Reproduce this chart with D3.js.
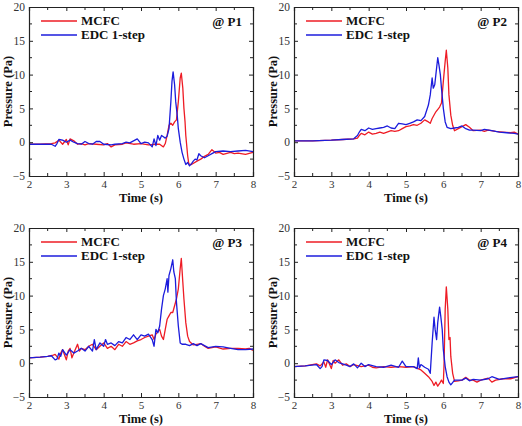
<!doctype html>
<html lang="en">
<head>
<meta charset="UTF-8">
<title>pressure-panels</title>
<style>
  body { margin: 0; background: #fff; }
  svg text { font-family: 'Liberation Serif', 'Times New Roman', 'DejaVu Serif', serif !important; }
</style>
</head>
<body>
<svg width="522" height="426"></svg>
<script src="https://d3js.org/d3.v7.min.js"></script>
<script>
// ---- data: [time (s), pressure (Pa)] ----
const p1Mcfc = [[2,-0.3],[2.3,-0.3],[2.6,-0.2],[2.7,-0.1],[2.8,0.3],[2.9,-0.3],[3.0,0.4],[3.05,-0.4],[3.1,0.5],[3.2,0.2],[3.3,-0.3],[3.4,-0.2],[3.5,-0.4],[3.6,-0.2],[3.8,-0.3],[4.0,-0.4],[4.1,-0.2],[4.2,-0.7],[4.3,-0.4],[4.5,-0.3],[4.6,-0.1],[4.8,-0.3],[5.0,-0.2],[5.2,-0.4],[5.4,-0.3],[5.5,-0.3],[5.6,-0.7],[5.65,-0.2],[5.7,1.0],[5.75,2.5],[5.8,2.8],[5.85,2.5],[5.9,3.0],[5.95,3.3],[6.0,6.0],[6.05,9.5],[6.08,10.2],[6.12,8.0],[6.15,5.0],[6.18,3.0],[6.2,1.0],[6.25,-2.0],[6.28,-3.2],[6.35,-3.3],[6.5,-2.8],[6.6,-2.5],[6.7,-2.1],[6.8,-1.8],[6.9,-1.1],[7.0,-1.6],[7.1,-1.5],[7.2,-1.8],[7.4,-1.5],[7.5,-1.7],[7.6,-1.6],[7.8,-1.8],[8.0,-1.5]];
const p1Edc = [[2,-0.3],[2.3,-0.3],[2.6,-0.3],[2.7,-0.6],[2.75,-0.2],[2.8,0.4],[2.9,0.3],[3.0,0.0],[3.1,0.3],[3.2,0.0],[3.3,-0.2],[3.4,-0.3],[3.5,0.1],[3.6,-0.2],[3.7,-0.3],[3.8,0.1],[3.9,0.1],[4.0,-0.3],[4.2,-0.4],[4.3,-0.3],[4.5,-0.2],[4.6,0.0],[4.7,-0.1],[4.8,0.2],[4.9,0.5],[5.0,-0.2],[5.1,0.0],[5.2,-0.1],[5.3,-0.7],[5.35,0.5],[5.4,-0.5],[5.45,1.0],[5.5,0.3],[5.55,1.0],[5.6,0.8],[5.65,0.6],[5.7,0.9],[5.75,2.0],[5.8,6.0],[5.83,9.0],[5.86,10.4],[5.9,8.5],[5.93,6.0],[5.97,4.0],[6.0,2.0],[6.05,0.0],[6.1,-1.5],[6.15,-2.5],[6.2,-3.3],[6.25,-3.0],[6.3,-3.5],[6.35,-3.2],[6.4,-2.8],[6.45,-2.5],[6.5,-2.6],[6.55,-1.7],[6.6,-2.0],[6.7,-2.3],[6.8,-2.0],[6.9,-1.7],[7.0,-1.4],[7.2,-1.3],[7.4,-1.4],[7.6,-1.3],[7.8,-1.2],[8.0,-1.4]];

const p2Mcfc = [[2,0.2],[2.5,0.2],[3.0,0.3],[3.3,0.4],[3.6,0.5],[3.7,0.6],[3.75,1.0],[3.8,1.3],[3.9,1.1],[4.0,1.5],[4.1,1.2],[4.2,1.3],[4.3,1.5],[4.4,1.3],[4.6,1.7],[4.7,1.6],[4.8,1.7],[4.9,2.0],[5.0,2.3],[5.1,2.4],[5.2,2.6],[5.3,2.5],[5.4,2.8],[5.5,3.3],[5.6,3.0],[5.65,2.8],[5.7,3.5],[5.8,4.5],[5.9,5.2],[5.95,5.8],[6.0,9.0],[6.05,12.0],[6.08,13.6],[6.12,11.0],[6.15,7.0],[6.2,4.0],[6.25,2.5],[6.3,1.7],[6.4,2.0],[6.5,2.3],[6.6,2.6],[6.7,2.2],[6.8,1.7],[7.0,1.8],[7.1,1.6],[7.2,1.8],[7.4,1.6],[7.6,1.5],[7.8,1.4],[7.9,1.5],[8.0,1.2]];
const p2Edc = [[2,0.2],[2.5,0.2],[3.0,0.3],[3.3,0.4],[3.6,0.5],[3.7,1.0],[3.75,1.5],[3.8,1.9],[3.9,1.7],[4.0,2.1],[4.1,1.9],[4.2,2.0],[4.3,2.1],[4.4,2.2],[4.5,2.4],[4.6,2.1],[4.7,2.0],[4.8,2.8],[4.9,2.7],[5.0,2.6],[5.1,2.8],[5.2,3.0],[5.3,3.3],[5.4,3.2],[5.5,3.8],[5.6,5.5],[5.65,7.0],[5.7,9.5],[5.73,8.0],[5.77,8.5],[5.8,10.0],[5.85,12.5],[5.88,11.5],[5.92,10.0],[5.95,8.0],[6.0,5.0],[6.05,3.0],[6.1,2.2],[6.2,2.0],[6.3,2.1],[6.4,2.2],[6.5,2.4],[6.6,2.0],[6.7,1.8],[6.8,1.8],[7.0,1.7],[7.1,1.9],[7.3,1.7],[7.5,1.5],[7.7,1.4],[7.9,1.3],[8.0,1.2]];

const p3Mcfc = [[2,0.8],[2.3,0.9],[2.5,1.0],[2.65,1.2],[2.7,1.3],[2.8,0.6],[2.85,1.5],[2.9,2.0],[3.0,0.5],[3.05,1.8],[3.1,2.2],[3.15,0.8],[3.2,1.5],[3.3,2.8],[3.35,1.8],[3.4,2.2],[3.5,2.0],[3.6,2.5],[3.7,2.8],[3.8,2.0],[3.9,2.5],[4.0,3.0],[4.1,2.2],[4.2,2.5],[4.3,2.0],[4.4,2.8],[4.5,2.5],[4.6,3.2],[4.7,2.8],[4.8,3.0],[4.9,3.3],[5.0,3.5],[5.1,3.8],[5.2,4.0],[5.3,4.2],[5.35,3.5],[5.4,4.3],[5.5,5.0],[5.55,4.0],[5.6,3.5],[5.65,5.0],[5.7,6.5],[5.75,7.0],[5.8,7.5],[5.85,7.5],[5.9,8.5],[5.95,9.5],[6.0,11.0],[6.05,14.0],[6.08,15.5],[6.12,12.0],[6.15,9.5],[6.2,6.0],[6.25,4.0],[6.3,3.2],[6.4,2.7],[6.5,2.8],[6.6,2.9],[6.7,2.5],[6.8,2.2],[7.0,2.4],[7.2,2.1],[7.4,2.2],[7.6,2.2],[7.8,2.1],[7.9,2.2],[8.0,1.9]];
const p3Edc = [[2,0.8],[2.3,0.9],[2.5,1.0],[2.6,1.1],[2.7,0.5],[2.75,0.6],[2.8,1.5],[2.85,1.0],[2.9,2.0],[3.0,1.2],[3.1,2.0],[3.2,1.5],[3.3,1.8],[3.4,2.2],[3.5,1.8],[3.6,2.5],[3.7,1.8],[3.75,3.5],[3.8,2.0],[3.9,3.0],[4.0,2.5],[4.05,3.5],[4.1,2.8],[4.2,3.0],[4.3,2.6],[4.4,3.2],[4.5,3.0],[4.6,3.8],[4.7,3.5],[4.8,4.2],[4.9,3.5],[5.0,4.2],[5.1,4.0],[5.2,4.3],[5.3,3.5],[5.35,2.5],[5.4,5.0],[5.45,4.5],[5.5,5.5],[5.55,8.0],[5.6,10.0],[5.65,11.0],[5.7,12.5],[5.72,10.5],[5.75,13.0],[5.8,14.0],[5.85,15.3],[5.88,13.5],[5.92,12.5],[5.95,9.0],[6.0,5.5],[6.05,3.0],[6.1,2.8],[6.2,2.8],[6.3,2.6],[6.4,2.9],[6.5,2.6],[6.6,2.9],[6.7,2.6],[6.8,2.3],[7.0,2.5],[7.2,2.4],[7.4,2.2],[7.6,2.0],[7.8,2.0],[8.0,2.1]];

const p4Mcfc = [[2,-0.5],[2.3,-0.4],[2.6,-0.1],[2.7,-0.4],[2.8,0.2],[2.85,-0.6],[2.9,0.5],[3.0,-0.8],[3.05,0.4],[3.1,0.0],[3.2,0.5],[3.3,-0.3],[3.4,-0.1],[3.5,-0.5],[3.6,-0.2],[3.8,-0.5],[4.0,-0.3],[4.1,-0.6],[4.2,-0.7],[4.4,-0.5],[4.6,-0.6],[4.8,-0.5],[5.0,-0.6],[5.2,-0.5],[5.4,-1.0],[5.5,-1.5],[5.6,-2.0],[5.7,-2.7],[5.75,-3.3],[5.8,-2.8],[5.85,-3.4],[5.9,-3.0],[5.95,-2.5],[6.0,-3.0],[6.02,0.0],[6.05,8.0],[6.08,11.3],[6.12,8.0],[6.15,3.5],[6.18,3.8],[6.2,1.0],[6.25,-1.5],[6.3,-2.7],[6.4,-2.6],[6.5,-2.5],[6.6,-2.1],[6.7,-2.5],[6.8,-2.5],[6.9,-2.8],[7.0,-2.5],[7.2,-2.2],[7.3,-2.8],[7.4,-2.5],[7.6,-2.3],[7.8,-2.3],[8.0,-2.0]];
const p4Edc = [[2,-0.5],[2.3,-0.4],[2.6,-0.2],[2.7,-0.8],[2.75,-0.5],[2.8,0.5],[2.9,0.4],[3.0,-0.2],[3.1,0.5],[3.2,0.1],[3.4,-0.3],[3.5,-0.5],[3.6,-0.1],[3.7,-0.7],[3.8,0.0],[3.9,-0.5],[4.0,-0.2],[4.2,-0.5],[4.4,-0.6],[4.6,-0.3],[4.8,-0.6],[4.9,0.3],[5.0,-0.5],[5.2,-0.5],[5.3,-0.8],[5.33,0.8],[5.36,-0.7],[5.4,-0.2],[5.5,-0.6],[5.6,-0.9],[5.65,-1.5],[5.7,3.0],[5.75,6.8],[5.78,5.0],[5.82,3.5],[5.85,6.0],[5.9,8.3],[5.93,7.0],[5.97,5.0],[6.0,2.0],[6.05,-0.5],[6.1,-2.0],[6.15,-2.8],[6.2,-3.2],[6.3,-2.5],[6.5,-2.5],[6.6,-2.2],[6.7,-2.6],[6.8,-2.4],[7.0,-2.5],[7.2,-2.3],[7.3,-2.0],[7.5,-2.4],[7.7,-2.2],[8.0,-2.0]];

const seriesNames = ['MCFC', 'EDC 1-step'];
const probeNames = ['@ P1', '@ P2', '@ P3', '@ P4'];
const xTicks = [2, 3, 4, 5, 6, 7, 8];
const yTicks = [-5, 0, 5, 10, 15, 20];

const colors = ['#ee1c25', '#1c1cdc'];
const panelData = [[p1Mcfc, p1Edc], [p2Mcfc, p2Edc], [p3Mcfc, p3Edc], [p4Mcfc, p4Edc]];
const origins = [[29, 7], [294, 7], [29, 228], [294, 228]];
const w = 224, h = 169;

const svg = d3.select('svg');
const x = d3.scaleLinear().domain([2, 8]).range([0, w]);
const y = d3.scaleLinear().domain([-5, 20]).range([h, 0]);
const line = d3.line().x(d => x(d[0])).y(d => y(d[1]));

panelData.forEach((series, i) => {
  const g = svg.append('g').attr('transform', `translate(${origins[i][0]},${origins[i][1]})`);

  // minor ticks (inward, no labels)
  const minorX = d3.range(2.5, 8, 1), minorY = d3.range(-2.5, 20, 5);
  const minor = g.append('g').attr('stroke', '#222').attr('stroke-width', 1);
  minorX.forEach(v => {
    minor.append('line').attr('x1', x(v)).attr('x2', x(v)).attr('y1', h).attr('y2', h - 3);
    minor.append('line').attr('x1', x(v)).attr('x2', x(v)).attr('y1', 0).attr('y2', 3);
  });
  minorY.forEach(v => {
    minor.append('line').attr('y1', y(v)).attr('y2', y(v)).attr('x1', 0).attr('x2', 3);
    minor.append('line').attr('y1', y(v)).attr('y2', y(v)).attr('x1', w).attr('x2', w - 3);
  });

  series.forEach((s, k) => {
    g.append('path').datum(s)
      .attr('fill', 'none').attr('stroke', colors[k]).attr('stroke-width', 1.3)
      .attr('stroke-linejoin', 'round').attr('d', line);
  });

  // box axes, ticks pointing inward
  const ax = g.append('g').attr('transform', `translate(0,${h})`)
    .call(d3.axisBottom(x).tickValues(xTicks).tickSize(-4).tickPadding(4).tickFormat(d3.format('d')));
  const ay = g.append('g')
    .call(d3.axisLeft(y).tickValues(yTicks).tickSize(-4).tickPadding(4).tickFormat(d3.format('d')));
  g.append('g').call(d3.axisTop(x).tickValues(xTicks).tickSize(-4).tickFormat(''));
  g.append('g').attr('transform', `translate(${w},0)`)
    .call(d3.axisRight(y).tickValues(yTicks).tickSize(-4).tickFormat(''));
  g.selectAll('.domain').attr('stroke', '#222').attr('stroke-width', 1.2);
  g.selectAll('.tick line').attr('stroke', '#222');
  ax.selectAll('text').attr('font-size', 11).attr('fill', '#333');
  ay.selectAll('text').attr('font-size', 11.5).attr('fill', '#333');

  // axis titles
  g.append('text').attr('x', w / 2).attr('y', h + 26)
    .attr('font-weight', 'bold').attr('font-size', 12.5)
    .attr('text-anchor', 'middle').attr('fill', '#111').text('Time (s)');
  g.append('text')
    .attr('transform', `translate(-17,${h / 2}) rotate(-90)`)
    .attr('font-weight', 'bold').attr('font-size', 12.5)
    .attr('text-anchor', 'middle').attr('fill', '#111').text('Pressure (Pa)');

  // legend
  seriesNames.forEach((name, k) => {
    const ly = 14 + k * 14;
    g.append('line').attr('x1', 12).attr('x2', 48).attr('y1', ly).attr('y2', ly)
      .attr('stroke', colors[k]).attr('stroke-width', 1.5);
    g.append('text').attr('x', 52).attr('y', ly + 4)
      .attr('font-weight', 'bold').attr('font-size', 13)
      .attr('fill', '#111').text(name);
  });
  g.append('text').attr('x', 213).attr('y', 19)
    .attr('font-weight', 'bold').attr('font-size', 13)
    .attr('text-anchor', 'end').attr('fill', '#111').text(probeNames[i]);
});
</script>
</body>
</html>
